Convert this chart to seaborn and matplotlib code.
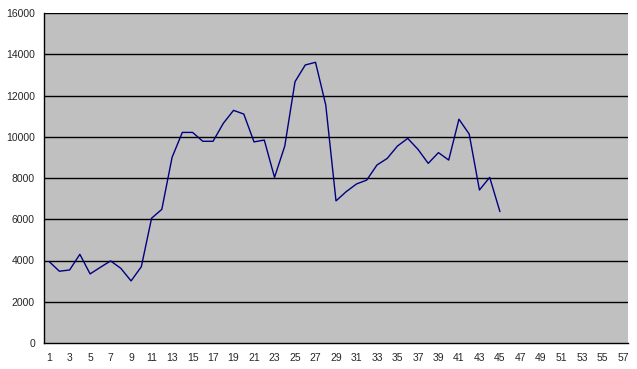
import matplotlib
matplotlib.use("Agg")
import matplotlib.pyplot as plt
import seaborn as sns
import pandas as pd
import numpy as np

categories = list(range(1, 46))
values = [3950, 3480, 3540, 4300, 3350, 3670, 3980, 3620, 3010, 3700,
          6050, 6480, 9000, 10210, 10210, 9780, 9780, 10650, 11280, 11100,
          9750, 9840, 8030, 9550, 12670, 13480, 13610, 11540, 6890, 7340,
          7710, 7900, 8630, 8950, 9550, 9920, 9390, 8710, 9230, 8870,
          10850, 10130, 7420, 8030, 6370]
n_categories = 57
y_ticks = list(range(0, 16001, 2000))

sns.set_style("white")
plt.rcParams['font.family'] = ['Liberation Sans', 'DejaVu Sans']

df = pd.DataFrame({"cat": categories, "val": values})

fig = plt.figure(figsize=(6.37, 3.69), dpi=100)
ax = fig.add_axes([44/637, 26/369, 584/637, 330/369])
ax.set_facecolor("#C0C0C0")

for yv in y_ticks[1:]:
    ax.axhline(yv, color="black", linewidth=1.0, zorder=1)

sns.lineplot(data=df, x="cat", y="val", ax=ax, color="#000080", linewidth=1.0, zorder=3)

ax.set_xlim(0.5, n_categories + 0.5)
ax.set_ylim(0, 16000)
ax.set_yticks(y_ticks)
ax.set_yticklabels([str(v) for v in y_ticks], fontsize=7.5)
ax.set_xticks(np.arange(0.5, n_categories + 1, 1.0))
ax.set_xticklabels([])
ax.set_xticks(range(1, n_categories + 1, 2), minor=True)
ax.set_xticklabels([str(v) for v in range(1, n_categories + 1, 2)], minor=True, fontsize=7.5)
ax.tick_params(axis="x", which="major", direction="out", length=3, width=1, color="black")
ax.tick_params(axis="x", which="minor", length=0, pad=7)
ax.tick_params(axis="y", direction="out", length=3, width=1, color="black", pad=3.5)
ax.set_xlabel("")
ax.set_ylabel("")
for s in ["top", "right"]:
    ax.spines[s].set_visible(False)
for s in ["left", "bottom"]:
    ax.spines[s].set_color("black")
    ax.spines[s].set_linewidth(1.0)

fig.savefig("out.png", dpi=100, facecolor="white")
